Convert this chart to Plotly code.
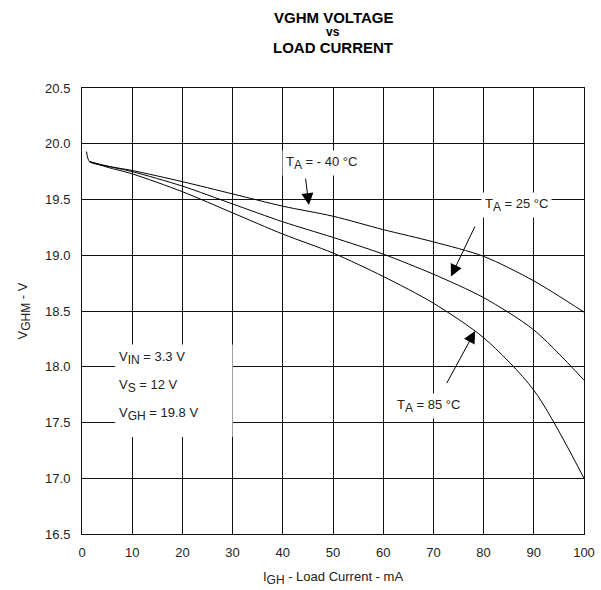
import plotly.graph_objects as go

# Data
x_m40 = [0.9, 1.5, 5, 10, 20, 30, 40, 50, 60, 70, 80, 90, 100]
v_m40 = [19.93, 19.84, 19.80, 19.76, 19.66, 19.55, 19.44, 19.35, 19.23, 19.12, 18.99, 18.77, 18.49]
x_25 = [1.5, 5, 10, 20, 30, 40, 50, 60, 70, 80, 90, 100]
v_25 = [19.84, 19.80, 19.75, 19.62, 19.46, 19.30, 19.16, 19.01, 18.83, 18.62, 18.33, 17.88]
x_85 = [1.5, 5, 10, 20, 30, 40, 50, 60, 70, 80, 90, 100]
v_85 = [19.84, 19.79, 19.73, 19.57, 19.38, 19.19, 19.02, 18.81, 18.57, 18.26, 17.79, 17.00]

x_ticks = [0, 10, 20, 30, 40, 50, 60, 70, 80, 90, 100]
y_ticks = [16.5, 17.0, 17.5, 18.0, 18.5, 19.0, 19.5, 20.0, 20.5]

FONT = "Arial, Liberation Sans, sans-serif"
MT, MB = 88, 56
PH = 590.0 - MT - MB  # plot height in px


def sub(s):
    return "<sub><span style='font-size:12px'>" + s + "</span></sub>"


fig = go.Figure()
for xs, vs in [(x_m40, v_m40), (x_25, v_25), (x_85, v_85)]:
    fig.add_trace(go.Scatter(x=xs, y=vs, mode="lines",
                             line=dict(color="black", width=1, shape="spline", smoothing=0.8),
                             showlegend=False, hoverinfo="skip"))

fig.update_layout(
    width=601, height=590,
    margin=dict(l=82, r=17, t=MT, b=MB),
    paper_bgcolor="white", plot_bgcolor="white",
    font=dict(family=FONT, size=13, color="#222"),
)
fig.update_xaxes(range=[0, 100], tickvals=x_ticks, ticktext=[str(v) for v in x_ticks],
                 automargin=False,
                 showgrid=True, gridcolor="#111", gridwidth=1,
                 showline=True, linecolor="#111", linewidth=1, mirror=True,
                 ticks="", zeroline=False, ticklabelstandoff=6,
                 title=dict(text="I" + sub("GH") + " - Load Current - mA", font=dict(size=13), standoff=13))
fig.update_yaxes(range=[16.5, 20.5], tickvals=y_ticks, ticktext=[f"{v:.1f}" for v in y_ticks],
                 automargin=False,
                 showgrid=True, gridcolor="#111", gridwidth=1,
                 showline=True, linecolor="#111", linewidth=1, mirror=True,
                 ticks="", zeroline=False, ticklabelstandoff=8,
                 title=dict(text="V" + sub("GHM") + " - V", font=dict(size=13), standoff=14))

# Title
fig.add_annotation(text="<b>VGHM VOLTAGE</b>", xref="paper", yref="paper", x=0.5, y=1 + 71/PH,
                   yanchor="middle", showarrow=False, font=dict(size=15, color="black"))
fig.add_annotation(text="<b>vs</b>", xref="paper", yref="paper", x=0.5, y=1 + 56/PH,
                   yanchor="middle", showarrow=False, font=dict(size=12, color="black"))
fig.add_annotation(text="<b>LOAD CURRENT</b>", xref="paper", yref="paper", x=0.5, y=1 + 41/PH,
                   yanchor="middle", showarrow=False, font=dict(size=15, color="black"))

# Curve labels
fig.add_annotation(text="T" + sub("A") + " = - 40 °C", x=47.8, y=19.83, showarrow=False,
                   bgcolor="white", borderpad=3, font=dict(size=13))
fig.add_annotation(text="T" + sub("A") + " = 25 °C", x=86.5, y=19.45, showarrow=False,
                   bgcolor="white", borderpad=3, font=dict(size=13))
fig.add_annotation(text="T" + sub("A") + " = 85 °C", x=69.0, y=17.65, showarrow=False,
                   bgcolor="white", borderpad=3, font=dict(size=13))

# Arrows
for tip, tail in [((45.2, 19.45), (44.5, 19.70)),
                  ((73.5, 18.81), (78.4, 19.27)),
                  ((78.3, 18.32), (72.5, 17.84))]:
    fig.add_annotation(text="", x=tip[0], y=tip[1], ax=tail[0], ay=tail[1],
                       axref="x", ayref="y", showarrow=True,
                       arrowhead=2, arrowsize=2.4, arrowwidth=1, arrowcolor="black")

# Conditions box
fig.add_shape(type="rect", xref="x", yref="y", x0=6.6, x1=30, y0=17.37, y1=18.2,
              fillcolor="white", line=dict(width=0), layer="between")
cond = ["V" + sub("IN") + " = 3.3 V", "V" + sub("S") + " = 12 V", "V" + sub("GH") + " = 19.8 V"]
cond_y = [18.08, 17.83, 17.58]
for t, yy in zip(cond, cond_y):
    fig.add_annotation(text=t, x=7.0, y=yy, xanchor="left", showarrow=False, font=dict(size=13))

fig.write_html("out.html", config={"displayModeBar": False},
               post_script="document.body.style.margin='0';document.body.style.overflow='hidden';")
